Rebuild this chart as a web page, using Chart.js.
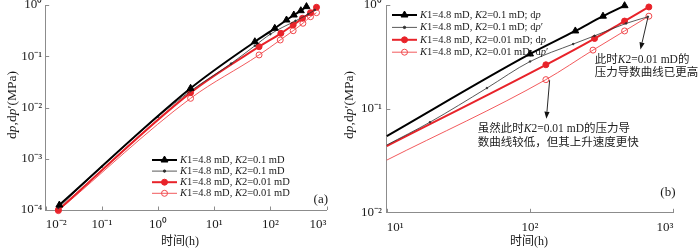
<!DOCTYPE html>
<html><head><meta charset="utf-8">
<script src="https://cdn.jsdelivr.net/npm/chart.js@4.4.1/dist/chart.umd.min.js"></script>
<style>
html,body{margin:0;padding:0;background:#fff;width:700px;height:248px;overflow:hidden}
#wa{position:absolute;left:0;top:0;width:350px;height:248px}
#wb{position:absolute;left:330px;top:0;width:370px;height:248px}
canvas{display:block}
</style></head><body>
<div id="wa"><canvas id="ca" width="350" height="248"></canvas></div>
<div id="wb"><canvas id="cb" width="370" height="248"></canvas></div>
<script>
// ---------------- data ----------------
const labelsA = ['K1=4.8 mD, K2=0.1 mD', 'K1=4.8 mD, K2=0.1 mD', 'K1=4.8 mD, K2=0.01 mD', 'K1=4.8 mD, K2=0.01 mD'];
const labelsB = ['K1=4.8 mD, K2=0.1 mD; dp', 'K1=4.8 mD, K2=0.1 mD; dp′', 'K1=4.8 mD, K2=0.01 mD; dp', 'K1=4.8 mD, K2=0.01 mD; dp′'];

// panel (a): time (h) and dp, dp' (MPa)
const aK01dpT   = [0.0175, 3.8, 53, 120, 194, 262, 349, 440];
const aK01dpV   = [1.25e-4, 0.0237, 0.192, 0.351, 0.51, 0.638, 0.774, 0.93];
const aK01derT  = [0.0168, 0.1, 1, 3.8, 20, 53, 100, 280, 470, 620];
const aK01derV  = [1.1e-4, 7.0e-4, 0.0066, 0.021, 0.072, 0.16, 0.27, 0.49, 0.66, 0.8];
const aK001dpT  = [0.0168, 3.8, 63, 154, 255, 374, 519, 664];
const aK001dpV  = [1.0e-4, 0.0195, 0.1535, 0.28, 0.407, 0.55, 0.708, 0.902];
const aK001derT = [0.0168, 3.8, 63, 150, 255, 380, 519, 664];
const aK001derV = [0.97e-4, 0.0151, 0.106, 0.2075, 0.315, 0.44, 0.591, 0.708];

// panel (b): zoom 10 - 1000 h
const bK01dpT   = [10, 100, 207, 323, 457];
const bK01dpV   = [0.0543, 0.337, 0.562, 0.78, 0.985];
const bK01derT  = [10, 20, 50, 100, 200, 282, 468, 664];
const bK01derV  = [0.0446, 0.074, 0.158, 0.285, 0.42, 0.504, 0.664, 0.769];
const bK001dpT  = [10, 129, 282, 457, 675];
const bK001dpV  = [0.0436, 0.265, 0.475, 0.70, 0.957];
const bK001derT = [10, 129, 275, 457, 675];
const bK001derV = [0.0319, 0.1906, 0.367, 0.562, 0.78];

const xTicksA = [0.01, 0.1, 1, 10, 100, 1000];
const yTicksA = [1e-4, 1e-3, 1e-2, 1e-1, 1];
const xTicksB = [10, 100, 1000];
const yTicksB = [0.01, 0.1, 1];

const xTitle = '时间(h)';
const yTitle = 'dp,dp′(MPa)';
const note1 = ['此时K2=0.01 mD的', '压力导数曲线已更高'];
const note2 = ['虽然此时K2=0.01 mD的压力导', '数曲线较低，但其上升速度更快'];
// annotation anchors in data units [time, value]
const note1Pos = [[283, 0.293], [283, 0.221]];
const note2Pos = [[43.2, 0.063], [43.2, 0.0469]];
const arrow1 = [[664, 0.752], [590, 0.372]];
const arrow2 = [[137, 0.188], [130, 0.08]];

// ---------------- helpers ----------------
const SERIF = "'Liberation Serif','Noto Sans CJK SC',serif";
const STY = [
  {color:'#000000', width:2,   style:'triangle', r:4,   fill:'#000000'},
  {color:'#2e2e2e', width:0.8, style:'circle',   r:0.8, fill:'#2e2e2e'},
  {color:'#e8232a', width:2,   style:'circle',   r:3,   fill:'#e8232a'},
  {color:'#f0474b', width:0.9, style:'circle',   r:3,   fill:'rgba(255,255,255,0)'}
];
const SUP = {'-':'⁻','0':'⁰','1':'¹','2':'²','3':'³','4':'⁴'};
function supLabel(v){
  const e = Math.round(Math.log10(v));
  return '10' + String(e).split('').map(c => SUP[c]).join('');
}
function runs(str){
  const out=[]; let cur='', it=false;
  for (const ch of str){
    const i = (ch==='K' || ch==='p');
    if (cur && i!==it){ out.push({t:cur,i:it}); cur=''; }
    it=i; cur+=ch;
  }
  if (cur) out.push({t:cur,i:it});
  return out;
}
function drawRich(ctx, str, x, y, size, align, color){
  const rs = runs(str); let w=0;
  rs.forEach(r => { ctx.font=(r.i?'italic ':'')+size+'px '+SERIF; r.w=ctx.measureText(r.t).width; w+=r.w; });
  let cx = align==='center' ? x-w/2 : (align==='right' ? x-w : x);
  ctx.textAlign='left'; ctx.textBaseline='middle'; ctx.fillStyle=color||'#1a1a1a';
  rs.forEach(r => { ctx.font=(r.i?'italic ':'')+size+'px '+SERIF; ctx.fillText(r.t,cx,y); cx+=r.w; });
}
function makeSet(T, V, label, k, hideFirst){
  const s = STY[k];
  return {
    label, data: T.map((t,i)=>({x:t, y:V[i]})),
    borderColor:s.color, borderWidth:s.width,
    pointStyle:s.style,
    pointRadius: c => (hideFirst && c.dataIndex===0) ? 0 : s.r,
    pointHoverRadius:0,
    pointBackgroundColor:s.fill, pointBorderColor:s.color, pointBorderWidth:1,
    cubicInterpolationMode:'monotone', fill:false,
    clip:{left:8,top:8,right:8,bottom:8}
  };
}
function axis(min, max, ticks, sizeKey, size, pad, horiz){
  return {
    type:'logarithmic', min, max,
    afterBuildTicks: s => { s.ticks = ticks.map(v => ({value:v})); },
    ticks:{ callback: v => supLabel(v), font:{family:SERIF, size:13}, color:'#1a1a1a',
            padding:pad, autoSkip:false, maxRotation:0, align: horiz ? 'inner' : 'center' },
    grid:{ display:false, drawTicks:false },
    border:{ color:'#8c8c8c', width:1 },
    afterFit: s => { s[sizeKey]=size; s.paddingLeft=0; s.paddingRight=0; s.paddingTop=0; s.paddingBottom=0; }
  };
}

const deco = {
  id:'deco',
  afterDraw(chart, args, o){
    const ctx = chart.ctx, xs = chart.scales.x, ys = chart.scales.y, ca = chart.chartArea;
    ctx.save();
    // inward ticks
    ctx.strokeStyle='#8c8c8c'; ctx.lineWidth=1;
    xs.ticks.forEach(t => { const p=Math.round(xs.getPixelForValue(t.value))+0.5;
      ctx.beginPath(); ctx.moveTo(p, ca.bottom); ctx.lineTo(p, ca.bottom-3.5); ctx.stroke(); });
    ys.ticks.forEach(t => { const p=Math.round(ys.getPixelForValue(t.value))+0.5;
      ctx.beginPath(); ctx.moveTo(ca.left, p); ctx.lineTo(ca.left+3.5, p); ctx.stroke(); });
    // legend
    const L = o.legend;
    chart.data.datasets.forEach((d,i) => {
      const y = L.y + i*L.dy, s = STY[i];
      ctx.strokeStyle=s.color; ctx.lineWidth=s.width;
      ctx.beginPath(); ctx.moveTo(L.x, y); ctx.lineTo(L.x+L.len, y); ctx.stroke();
      ctx.fillStyle=s.fill; ctx.strokeStyle=s.color; ctx.lineWidth=1;
      Chart.helpers.drawPoint(ctx, {pointStyle:s.style, radius:Math.max(s.r,1.2), rotation:0, borderWidth:1}, L.x+L.len/2, y);
      drawRich(ctx, d.label, L.x+L.len+3, y, L.size, 'left', '#1a1a1a');
    });
    // titles
    drawRich(ctx, xTitle, o.xt[0], o.xt[1], 12, 'center');
    ctx.save(); ctx.translate(o.yt[0], o.yt[1]); ctx.rotate(-Math.PI/2);
    drawRich(ctx, yTitle, 0, 0, 13.5, 'center'); ctx.restore();
    drawRich(ctx, o.letter, o.lt[0], o.lt[1], 13, 'right');
    // notes
    if (o.notes){
      o.notes.forEach(n => n.lines.forEach((ln,j) => {
        drawRich(ctx, ln, xs.getPixelForValue(n.pos[j][0]), ys.getPixelForValue(n.pos[j][1]), 11.5, 'left', '#222');
      }));
      o.arrows.forEach(a => {
        const x1=xs.getPixelForValue(a[0][0]), y1=ys.getPixelForValue(a[0][1]);
        const x2=xs.getPixelForValue(a[1][0]), y2=ys.getPixelForValue(a[1][1]);
        const ang=Math.atan2(y2-y1,x2-x1), hl=7, hw=2.6;
        ctx.strokeStyle='#111'; ctx.fillStyle='#111'; ctx.lineWidth=0.9;
        ctx.beginPath(); ctx.moveTo(x1,y1); ctx.lineTo(x2-hl*Math.cos(ang), y2-hl*Math.sin(ang)); ctx.stroke();
        ctx.beginPath(); ctx.moveTo(x2,y2);
        ctx.lineTo(x2-hl*Math.cos(ang)+hw*Math.sin(ang), y2-hl*Math.sin(ang)-hw*Math.cos(ang));
        ctx.lineTo(x2-hl*Math.cos(ang)-hw*Math.sin(ang), y2-hl*Math.sin(ang)+hw*Math.cos(ang));
        ctx.closePath(); ctx.fill();
      });
    }
    ctx.restore();
  }
};

const common = {
  responsive:false, animation:false, devicePixelRatio:1,
  plugins:{ legend:{display:false}, tooltip:{enabled:false} },
  events:[]
};

new Chart(document.getElementById('ca'), {
  type:'line',
  data:{ datasets:[
    makeSet(aK01dpT, aK01dpV, labelsA[0], 0, false),
    makeSet(aK01derT, aK01derV, labelsA[1], 1, false),
    makeSet(aK001dpT, aK001dpV, labelsA[2], 2, false),
    makeSet(aK001derT, aK001derV, labelsA[3], 3, false)
  ]},
  options:Object.assign({}, common, {
    layout:{ padding:{left:0, right:23.5, top:5, bottom:0} },
    scales:{
      x: axis(0.01, 1000, xTicksA, 'height', 38, 7, true),
      y: axis(1e-4, 1, yTicksA, 'width', 45.7, 3.5, false)
    },
    plugins:{ legend:{display:false}, tooltip:{enabled:false},
      deco:{ legend:{x:152, y:160, dy:11.1, len:25, size:10.5},
             xt:[180, 242], yt:[12, 105], letter:'(a)', lt:[328, 200] } }
  }),
  plugins:[deco]
});

new Chart(document.getElementById('cb'), {
  type:'line',
  data:{ datasets:[
    makeSet(bK01dpT, bK01dpV, labelsB[0], 0, true),
    makeSet(bK01derT, bK01derV, labelsB[1], 1, true),
    makeSet(bK001dpT, bK001dpV, labelsB[2], 2, true),
    makeSet(bK001derT, bK001derV, labelsB[3], 3, true)
  ]},
  options:Object.assign({}, common, {
    layout:{ padding:{left:0, right:26.7, top:2, bottom:0} },
    scales:{
      x: axis(10, 1000, xTicksB, 'height', 35.7, 7, true),
      y: axis(0.01, 1, yTicksB, 'width', 56.8, 5, false)
    },
    plugins:{ legend:{display:false}, tooltip:{enabled:false},
      deco:{ legend:{x:62, y:15, dy:12.4, len:25, size:10.5},
             xt:[199, 242], yt:[19, 105], letter:'(b)', lt:[345.5, 193],
             notes:[{lines:note1, pos:note1Pos},{lines:note2, pos:note2Pos}],
             arrows:[arrow1, arrow2] } }
  }),
  plugins:[deco]
});
</script>
</body></html>
